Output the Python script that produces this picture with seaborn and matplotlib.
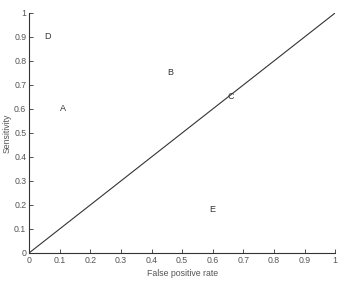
import matplotlib
matplotlib.use("Agg")
import matplotlib.pyplot as plt
import seaborn as sns
import pandas as pd

labels = ["A", "B", "C", "D", "E"]
fpr = [0.11, 0.46, 0.66, 0.06, 0.60]
sens = [0.60, 0.75, 0.65, 0.90, 0.18]
diag_x = [0, 1]
diag_y = [0, 1]
ticks = [0, 0.1, 0.2, 0.3, 0.4, 0.5, 0.6, 0.7, 0.8, 0.9, 1]
tick_labels = ["0", "0.1", "0.2", "0.3", "0.4", "0.5", "0.6", "0.7", "0.8", "0.9", "1"]

sns.set_style("ticks")
plt.rcParams['font.family'] = ['Liberation Sans', 'DejaVu Sans']

fig = plt.figure(figsize=(3.42, 2.82), dpi=100)
ax = fig.add_axes([0.085, 0.103, 0.895, 0.851])

df = pd.DataFrame({"x": diag_x, "y": diag_y})
sns.lineplot(data=df, x="x", y="y", ax=ax, color="#333333", linewidth=0.8)

for lab, x, y in zip(labels, fpr, sens):
    ax.text(x, y, lab, fontsize=6.5, color="#333333", ha="center", va="center")

ax.set_xlim(0, 1)
ax.set_ylim(0, 1)
ax.set_xticks(ticks)
ax.set_xticklabels(tick_labels)
ax.set_yticks(ticks)
ax.set_yticklabels(tick_labels)
ax.tick_params(direction="in", length=3, width=0.6, labelsize=6.3, colors="#333333", labelcolor="#555555", pad=2)
ax.set_xlabel("False positive rate", fontsize=6.3, color="#555555", labelpad=3)
ax.set_ylabel("Sensitivity", fontsize=6.3, color="#555555", labelpad=2)
sns.despine(ax=ax)
for s in ["left", "bottom"]:
    ax.spines[s].set_linewidth(0.8)
    ax.spines[s].set_color("#333333")

fig.savefig("out.png", dpi=100)
